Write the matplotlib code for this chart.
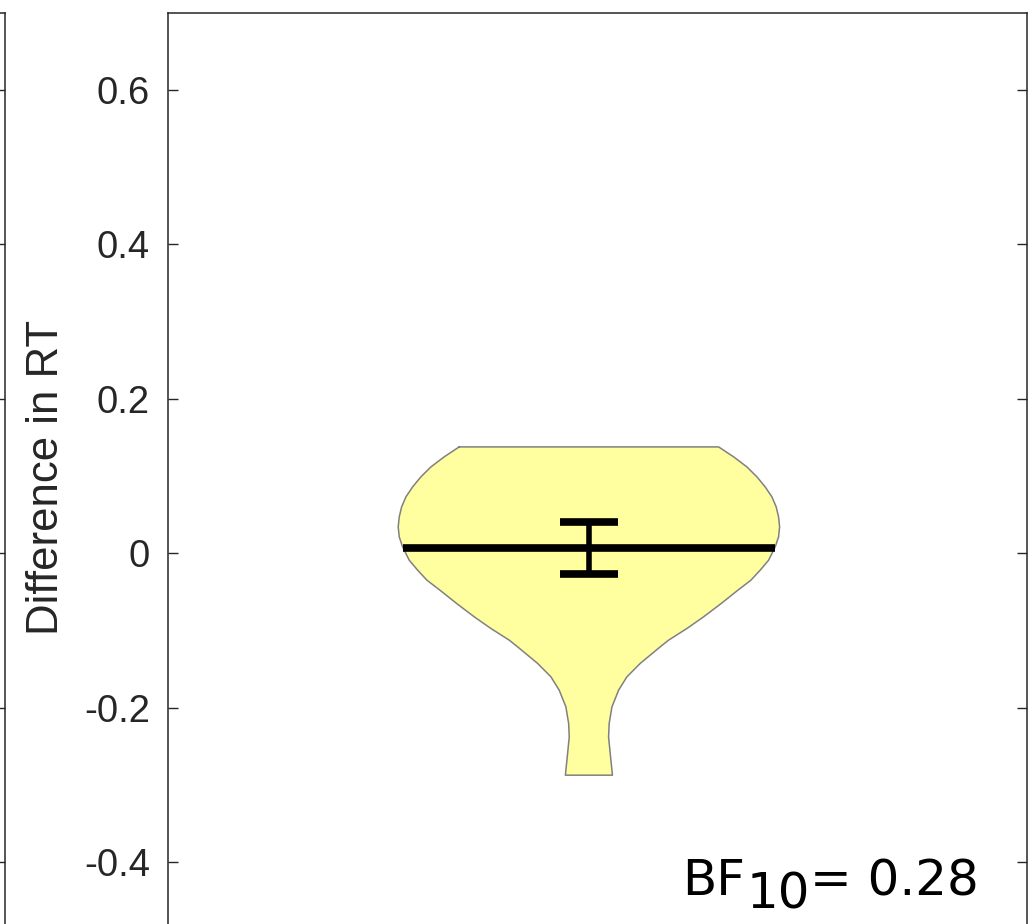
#!/usr/bin/env python
"""Violin of the RT difference with mean and CI, BF annotation."""

import numpy as np
import matplotlib
matplotlib.use('Agg')
import matplotlib.pyplot as plt

plt.rcParams['font.family'] = ['Liberation Sans', 'DejaVu Sans']

# violin outline: y value and half width (x data units)
violin_y = [0.1377, 0.1248, 0.1118, 0.0989, 0.0859, 0.0730, 0.0600, 0.0470, 0.0341,
            0.0211, 0.0082, -0.0091, -0.0220, -0.0350, -0.0479, -0.0652, -0.0825,
            -0.0976, -0.1127, -0.1214, -0.1429, -0.1603, -0.1775, -0.1992, -0.2207,
            -0.2380, -0.2596, -0.2877]
violin_hw = [0.1510, 0.1685, 0.1839, 0.1956, 0.2052, 0.2130, 0.2180, 0.2208, 0.2220,
             0.2208, 0.2169, 0.2092, 0.1994, 0.1886, 0.1735, 0.1540, 0.1335,
             0.1141, 0.0928, 0.0830, 0.0597, 0.0442, 0.0346, 0.0268, 0.0236,
             0.0229, 0.0248, 0.0274]
position = 1.0
mean_val = 0.0065
ci_low, ci_high = -0.0266, 0.040
bf10 = 0.28
yticks = [-0.4, -0.2, 0, 0.2, 0.4, 0.6]
ylim = (-0.5, 0.7)

W, H = 1036, 924
fig = plt.figure(figsize=(W / 100, H / 100), dpi=100)

ax_top = 1 - 13 / H
ax_bot = 1 - 939 / H
# neighbouring panel, only its right edge shows
ax0 = fig.add_axes([-0.8, ax_bot, 0.8 + 5 / W, ax_top - ax_bot])
ax = fig.add_axes([168 / W, ax_bot, (1027 - 168) / W, ax_top - ax_bot])

for a in (ax0, ax):
    a.set_ylim(*ylim)
    a.set_yticks(yticks)
    a.set_yticklabels(['{:g}'.format(v) for v in yticks])
    a.set_xticks([])
    a.tick_params(axis='y', direction='in', left=True, right=True, length=7,
                  width=1.0, color='#262626', labelsize=27.5,
                  labelcolor='#262626', pad=13)
    for s in a.spines.values():
        s.set_color('#262626')
        s.set_linewidth(1.1)
ax0.tick_params(axis='y', labelleft=False)

ax.set_xlim(position - 0.49, position + 0.51)

vy = np.array(violin_y)
vw = np.array(violin_hw)
ax.fill_betweenx(vy, position - vw, position + vw, facecolor='#ffff9f',
                 edgecolor='none', zorder=2)
outline_x = np.concatenate([position - vw, (position + vw)[::-1], [position - vw[0]]])
outline_y = np.concatenate([vy, vy[::-1], [vy[0]]])
ax.plot(outline_x, outline_y, color='#808080', lw=1.1, zorder=3)

hw_mean = np.interp(mean_val, vy[::-1], vw[::-1])
ax.plot([position - hw_mean, position + hw_mean], [mean_val, mean_val],
        color='black', lw=5.5, solid_capstyle='butt', zorder=4)
ax.errorbar([position], [mean_val],
            yerr=[[mean_val - ci_low], [ci_high - mean_val]],
            fmt='none', ecolor='black', elinewidth=4, capsize=21.2,
            capthick=5.5, zorder=5)

ax.set_ylabel('Difference in RT', fontsize=31.5, color='#262626')
ax.yaxis.set_label_coords((67 - 168) / (1027 - 168), 0.498)

bf_font = dict(fontsize=36, color='black', family=['DejaVu Sans'])
t1 = fig.text(682 / W, 1 - 895 / H, 'BF', va='baseline', **bf_font)
t2 = ax.annotate('10', xy=(1, 0), xycoords=t1, xytext=(1, -9.5),
                 textcoords='offset points', va='bottom', ha='left', **bf_font)
ax.annotate('= {:.2f}'.format(bf10), xy=(1, 0), xycoords=t2, xytext=(0, 9.5),
            textcoords='offset points', va='bottom', ha='left', **bf_font)

fig.savefig('out.png', dpi=100)
